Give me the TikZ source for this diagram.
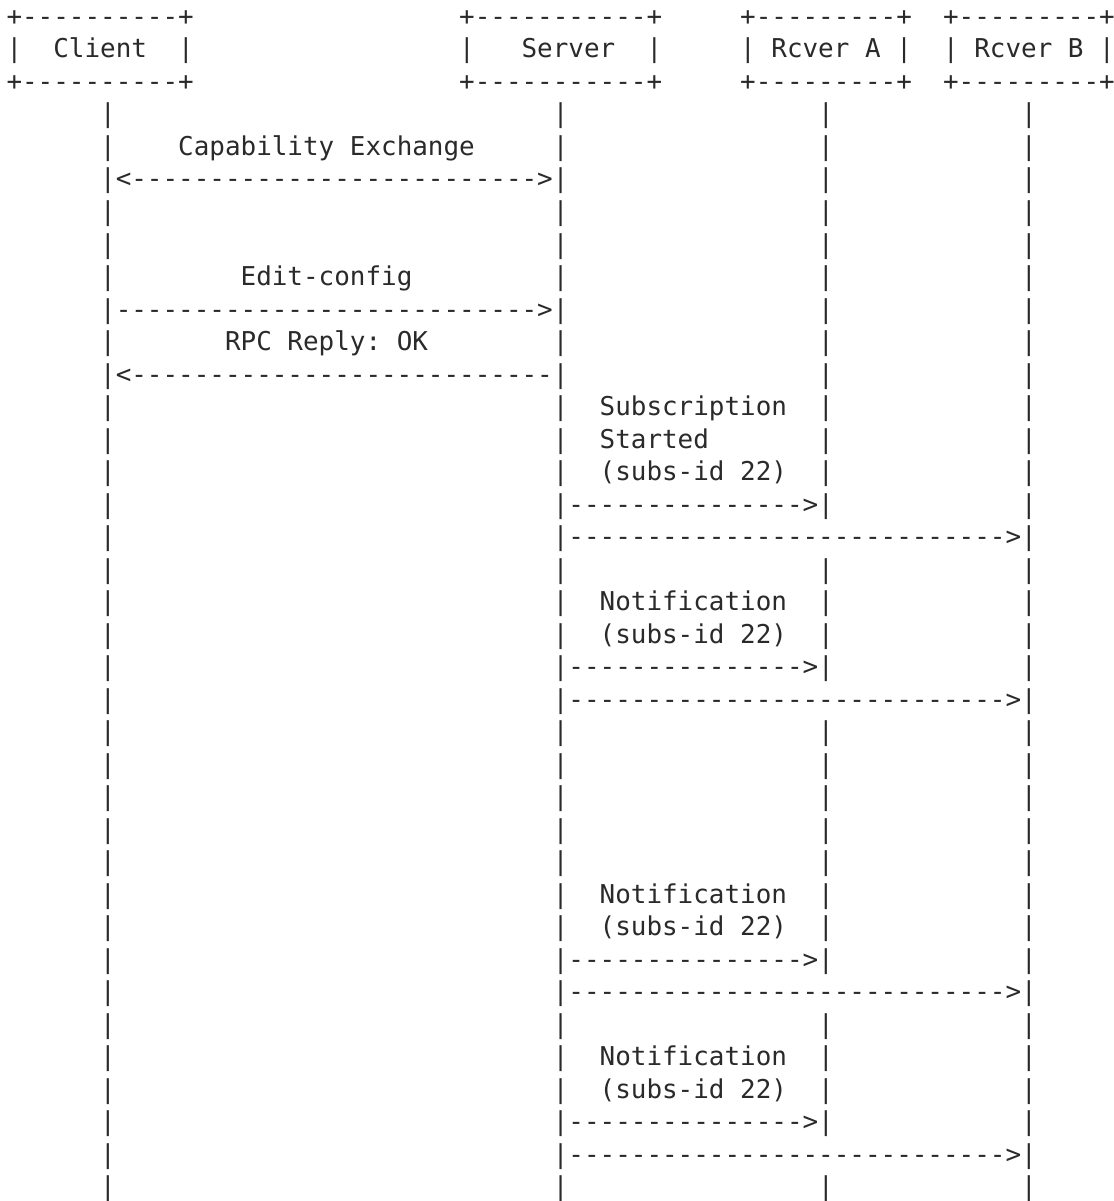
\documentclass[tikz,border=0pt]{standalone}
\usepackage{fontspec}
\setmonofont{DejaVu Sans Mono}
\definecolor{ink}{HTML}{2A2A2A}
\ExplSyntaxOn
\cs_new:Npn \dashrun #1 {\prg_replicate:nn{#1}{-}}
\ExplSyntaxOff
\tikzset{txt/.style={anchor=base west, inner sep=0pt, outer sep=0pt, text=ink,
  font=\ttfamily\fontsize{25.93}{32.5}\selectfont}}
% #1 name, #2 column, #3 line, #4 text
\newcommand\tx[4]{\node[txt] (#1) at ({6.5pt+#2*15.61pt},{-25.5pt-(#3-1)*32.5pt}) {#4};}
\begin{document}
\begin{tikzpicture}
\fill[white] (0,0) rectangle (1113pt,-1201pt);
\useasboundingbox (0,0) rectangle (1113pt,-1201pt);
% boxes
\foreach \r in {1,3} {
  \tx{cbox-\r}{0}{\r}{+\dashrun{10}+}
  \tx{sbox-\r}{29}{\r}{+\dashrun{11}+}
  \tx{abox-\r}{47}{\r}{+\dashrun{9}+}
  \tx{bbox-\r}{60}{\r}{+\dashrun{9}+}
}
\tx{cl}{0}{2}{|}\tx{client}{3}{2}{Client}\tx{cr}{11}{2}{|}
\tx{sl}{29}{2}{|}\tx{server}{33}{2}{Server}\tx{sr}{41}{2}{|}
\tx{al}{47}{2}{|}\tx{rcva}{49}{2}{Rcver A}\tx{ar}{57}{2}{|}
\tx{bl}{60}{2}{|}\tx{rcvb}{62}{2}{Rcver B}\tx{br}{70}{2}{|}
% lifelines
\foreach \r in {4,5,7,8,9,11,13,14,15,18,19,20,23,24,25,26,27,28,29,32,33,34,37} {
  \foreach \c in {6,35,52,65} {\tx{ll-\r-\c}{\c}{\r}{|}}
}
\foreach \r in {6,10,12} {\foreach \c in {52,65} {\tx{ll-\r-\c}{\c}{\r}{|}}}
\foreach \r in {16,17,21,22,30,31,35,36} {\tx{ll-\r-6}{6}{\r}{|}}
\foreach \r in {16,21,30,35} {\tx{ll-\r-65}{65}{\r}{|}}
% client-server messages
\tx{capex}{11}{5}{Capability Exchange}
\tx{caparrow}{6}{6}{|<\dashrun{26}>|}
\tx{edit}{15}{9}{Edit-config}
\tx{editarrow}{6}{10}{|\dashrun{27}>|}
\tx{reply}{14}{11}{RPC Reply: OK}
\tx{replyarrow}{6}{12}{|<\dashrun{27}|}
% subscription started
\tx{subs}{38}{13}{Subscription}
\tx{started}{38}{14}{Started}
\tx{sid1}{38}{15}{(subs-id 22)}
% notifications
\tx{note1}{38}{19}{Notification}
\tx{sid2}{38}{20}{(subs-id 22)}
\tx{note2}{38}{28}{Notification}
\tx{sid3}{38}{29}{(subs-id 22)}
\tx{note3}{38}{33}{Notification}
\tx{sid4}{38}{34}{(subs-id 22)}
% server to receivers
\foreach \r in {16,21,30,35} {\tx{toa-\r}{35}{\r}{|\dashrun{15}>|}}
\foreach \r in {17,22,31,36} {\tx{tob-\r}{35}{\r}{|\dashrun{28}>|}}
\end{tikzpicture}
\end{document}
